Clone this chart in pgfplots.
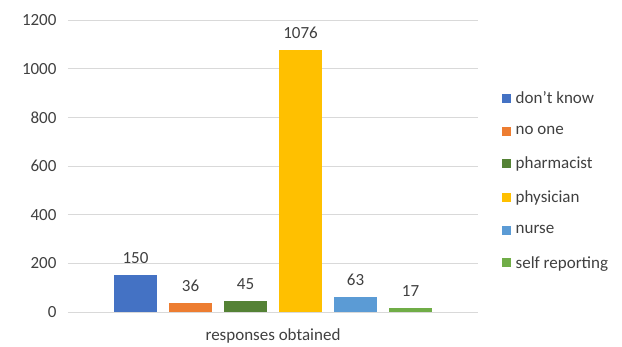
\documentclass[border=0pt]{standalone}
\usepackage{pgfplots}
\pgfplotsset{compat=1.18}
\usepackage{fontspec}
\setmainfont{Carlito}
\definecolor{cDK}{HTML}{4472C4}
\definecolor{cNO}{HTML}{ED7D31}
\definecolor{cPH}{HTML}{548235}
\definecolor{cPY}{HTML}{FFC000}
\definecolor{cNU}{HTML}{5B9BD5}
\definecolor{cSR}{HTML}{70AD47}
\definecolor{gridc}{HTML}{D9D9D9}
\definecolor{txt}{HTML}{404040}
\begin{document}
\begin{tikzpicture}
\begin{axis}[
  scale only axis, width=410pt, height=292pt,
  ymin=0, ymax=1200, ytick={0,200,...,1200},
  xmin=-1, xmax=1, xtick={0}, xticklabels={responses obtained},
  ybar, bar width=43pt,
  axis lines*=left,
  y axis line style={draw=none},
  x axis line style={draw=gridc, line width=0.8pt, -},
  ymajorgrids, grid style={gridc, line width=0.8pt},
  major tick length=0pt,
  tick label style={font=\fontsize{17}{20}\selectfont, text=txt},
  yticklabel style={xshift=-8pt},
  xticklabel style={yshift=-13pt},
  /pgf/number format/assume math mode=true,
  /pgf/number format/1000 sep={},
  nodes near coords,
  every node near coord/.append style={font=\fontsize{17}{20}\selectfont, text=txt, yshift=8pt},
  legend style={draw=none, fill=none, at={(1.05,0.45)}, anchor=west,
    font=\fontsize{17}{20}\selectfont, row sep=17pt, text=txt,
    legend cell align=left},
  legend image code/.code={\fill[#1] (0pt,-4.5pt) rectangle (9pt,4.5pt); \path (12pt,0pt);},
]
\addplot[fill=cDK, draw=none, bar shift=-137.5pt] coordinates {(0,150)};
\addplot[fill=cNO, draw=none, bar shift=-82.5pt] coordinates {(0,36)};
\addplot[fill=cPH, draw=none, bar shift=-27.5pt] coordinates {(0,45)};
\addplot[fill=cPY, draw=none, bar shift=27.5pt] coordinates {(0,1076)};
\addplot[fill=cNU, draw=none, bar shift=82.5pt] coordinates {(0,63)};
\addplot[fill=cSR, draw=none, bar shift=137.5pt] coordinates {(0,17)};
\legend{don’t know, no one, pharmacist, physician, nurse, self reporting}
\end{axis}
\pgfresetboundingbox
\path[use as bounding box] (-68pt,-35pt) rectangle (554pt,312pt);
\end{tikzpicture}
\end{document}
